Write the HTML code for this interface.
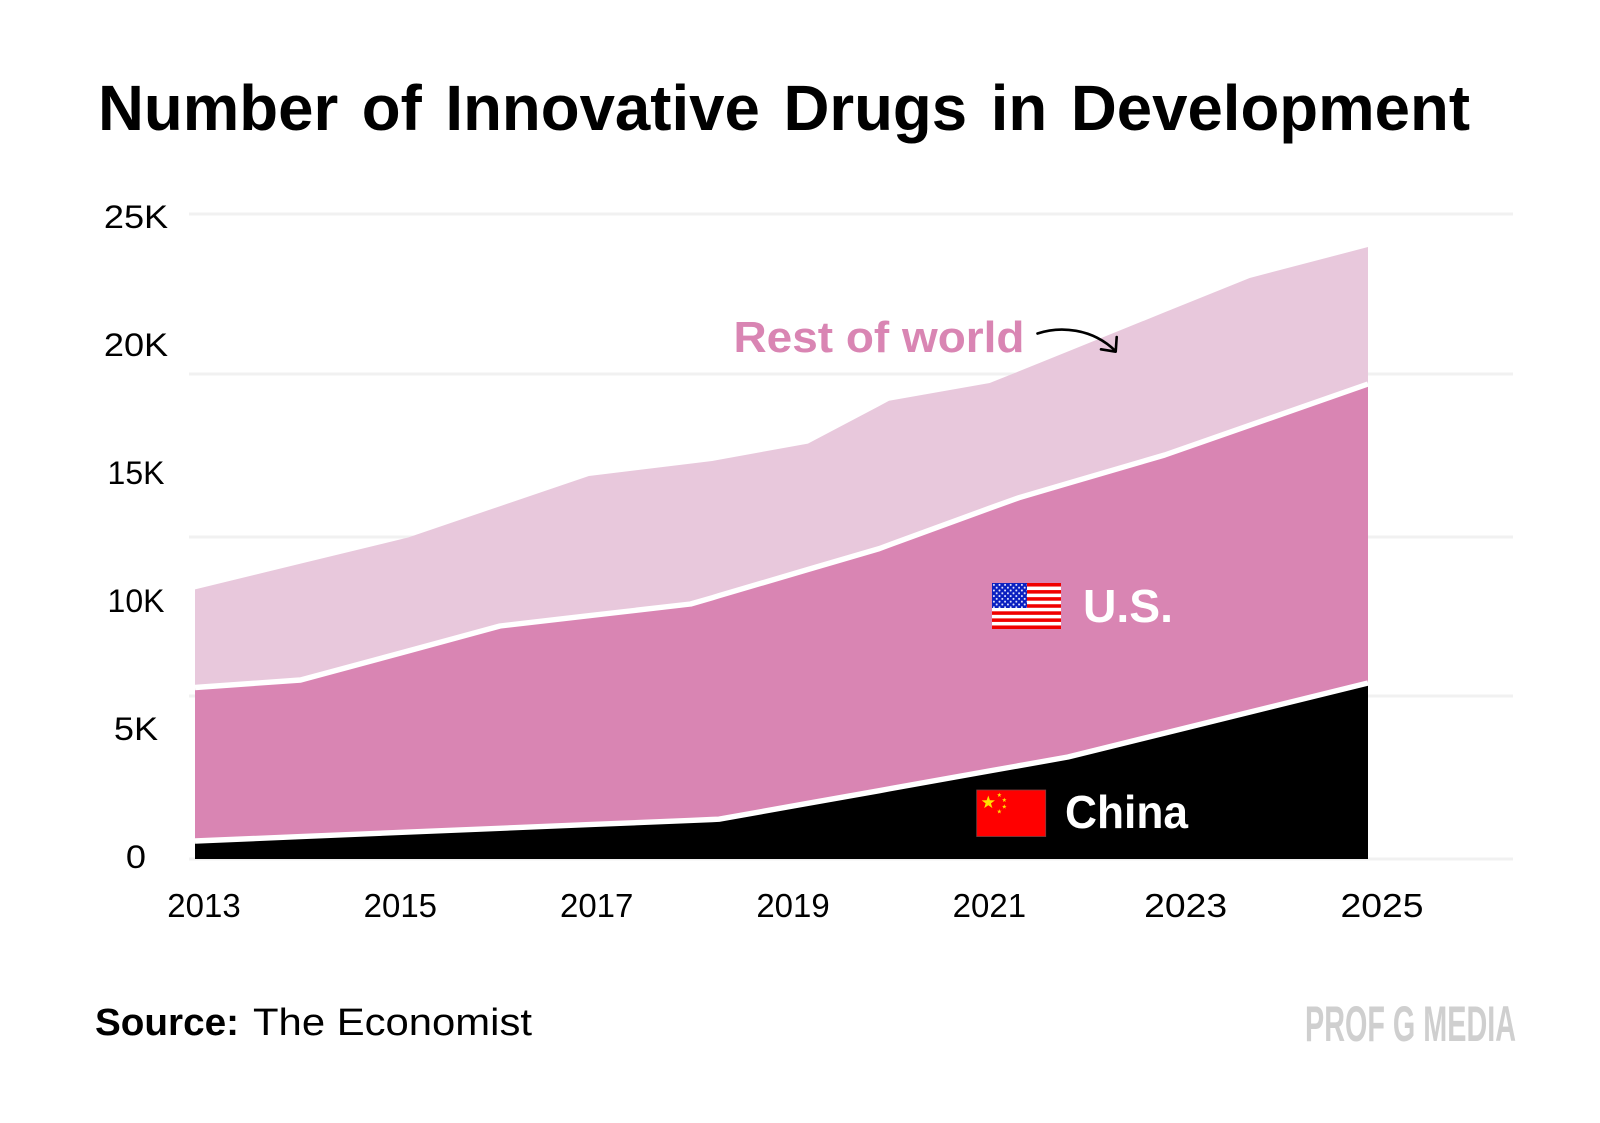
<!DOCTYPE html>
<html lang="en">
<head>
<meta charset="utf-8">
<title>Number of Innovative Drugs in Development</title>
<style>
html,body{margin:0;padding:0;background:#fff;width:1600px;height:1123px;overflow:hidden}
svg{display:block}
text{font-family:"Liberation Sans",sans-serif}
</style>
</head>
<body>
<svg id="chart" xmlns="http://www.w3.org/2000/svg" width="1600" height="1123" viewBox="0 0 1600 1123">
  <defs>
    <pattern id="star-dots" width="5.6" height="5.6" patternUnits="userSpaceOnUse" x="992.5" y="583.5">
      <circle cx="1.4" cy="1.4" r="1" fill="#E6E8FF"/>
      <circle cx="4.2" cy="4.2" r="1" fill="#E6E8FF"/>
    </pattern>
  </defs>
  <rect width="1600" height="1123" fill="#fff"/>
  <text x="98" y="130" font-size="64" font-weight="700" fill="#000" word-spacing="6" textLength="1372" lengthAdjust="spacingAndGlyphs">Number of Innovative Drugs in Development</text>
  <g id="grid"></g>
  <g id="areas"></g>
  <g id="yticks"></g>
  <g id="xticks"></g>

  <text x="733.5" y="352" font-size="44" font-weight="700" fill="#D985B3" textLength="291" lengthAdjust="spacingAndGlyphs">Rest of world</text>
  <g fill="none" stroke="#000" stroke-width="2.6" stroke-linecap="round" stroke-linejoin="round">
    <path d="M1037.5 333.5 C1060 326 1092 328 1115.5 351"/>
    <path d="M1116.7 337 L1115.7 351.7 L1101 349.3"/>
  </g>

  <g>
    <rect x="992" y="583" width="69" height="46" fill="#fff"/>
    <g id="us-stripes" fill="#F00000"></g>
    <rect x="992" y="583" width="35" height="25" fill="#0A1FC0"/>
    <rect x="992" y="583" width="35" height="25" fill="url(#star-dots)"/>
  </g>
  <text x="1083" y="622" font-size="46" font-weight="700" fill="#fff" textLength="90" lengthAdjust="spacingAndGlyphs">U.S.</text>

  <g>
    <rect x="976.7" y="790" width="69" height="46.5" fill="#FF0000" stroke="#7a4040" stroke-width="0.8"/>
    <g id="china-stars" fill="#FFE000"></g>
  </g>
  <text x="1065" y="828" font-size="46" font-weight="700" fill="#fff" textLength="123" lengthAdjust="spacingAndGlyphs">China</text>

  <text x="95" y="1035" font-size="38" font-weight="700" fill="#000" textLength="144" lengthAdjust="spacingAndGlyphs">Source:</text>
  <text x="253" y="1035" font-size="38" fill="#000" textLength="279" lengthAdjust="spacingAndGlyphs">The Economist</text>
  <text x="1305" y="1041" font-size="50" font-weight="700" fill="#CFCFCF" textLength="211" lengthAdjust="spacingAndGlyphs">PROF G MEDIA</text>
</svg>

<script>
const years = [2013.00,2014.08,2015.18,2016.12,2017.03,2018.07,2018.29,2018.36,2019.27,2020.00,2020.10,2021.13,2021.43,2021.93,2022.92,2023.79,2025.00];
const chinaValues = [698,868,1043,1190,1333,1496,1531,1543,2159,2647,2717,3415,3616,3954,4880,5694,6822];
const usValues = [5949,6070,7019,7841,8097,8388,8593,8662,9062,9384,9454,10182,10388,10608,10779,11116,11589];
const restValues = [3803,4512,4399,4644,5415,5442,5302,5272,4880,5527,5593,4853,4899,5109,5531,5710,5310];
const yTickValues = [25000,20000,15000,10000,5000,0];
const yTickLabels = ["25K","20K","15K","10K","5K","0"];
const xTickYears = [2013,2015,2017,2019,2021,2023,2025];
const gridValues = [25000,18800,12480,6320,0];

const NS = "http://www.w3.org/2000/svg";
function xScale(yr){ return 195 + (yr - 2013) * 97.75; }
function yScale(v){ return 859 - v * 645 / 25000; }
function xLabelPos(yr){ return 204 + (yr - 2013) * 98.17; }
function yLabelPos(v){ return 868 - v * 640 / 25000; }
function make(tag, attrs, parent){
  const el = document.createElementNS(NS, tag);
  for (const k in attrs) el.setAttribute(k, attrs[k]);
  parent.appendChild(el);
  return el;
}
function fitWidth(t){
  const s = t.textContent;
  const factor = s.indexOf("1") >= 0 ? 1.0 : 1.13;
  t.setAttribute("textLength", (t.getComputedTextLength() * factor).toFixed(1));
  t.setAttribute("lengthAdjust", "spacingAndGlyphs");
}

const grid = document.getElementById("grid");
gridValues.forEach(function(v){
  const line = make("line", {x1:189, x2:1513, y1:yScale(v), y2:yScale(v), stroke:"#F1F1F1", "stroke-width":3}, grid);
  
  
});

const cumChina = chinaValues.slice();
const cumUs = usValues.map(function(v,i){ return v + cumChina[i]; });
const cumTotal = restValues.map(function(v,i){ return v + cumUs[i]; });
const zeros = years.map(function(){ return 0; });

function topPts(arr){ return years.map(function(y,i){ return xScale(y).toFixed(1)+","+yScale(arr[i]).toFixed(1); }); }
function bandPts(upper, lower){ return topPts(upper).concat(topPts(lower).reverse()).join(" "); }

const areas = document.getElementById("areas");
const restArea = make("polygon", {points:bandPts(cumTotal,cumUs), fill:"#E8C8DC"}, areas);


const usArea = make("polygon", {points:bandPts(cumUs,cumChina), fill:"#D985B3"}, areas);


const chinaArea = make("polygon", {points:bandPts(cumChina,zeros), fill:"#000"}, areas);


const usLine = make("polyline", {points:topPts(cumUs).join(" "), fill:"none", stroke:"#fff", "stroke-width":5.4, "stroke-linejoin":"round"}, areas);


const chinaLine = make("polyline", {points:topPts(cumChina).join(" "), fill:"none", stroke:"#fff", "stroke-width":5.4, "stroke-linejoin":"round"}, areas);



const yticks = document.getElementById("yticks");
yTickValues.forEach(function(v,i){
  const t = make("text", {x:136, y:yLabelPos(v), "text-anchor":"middle", "font-size":32, fill:"#000"}, yticks);
  t.textContent = yTickLabels[i];
  
  
  fitWidth(t);
});

const xticks = document.getElementById("xticks");
xTickYears.forEach(function(yr){
  const t = make("text", {x:xLabelPos(yr), y:917, "text-anchor":"middle", "font-size":33, fill:"#000"}, xticks);
  t.textContent = String(yr);
  
  
  fitWidth(t);
});

const stripes = document.getElementById("us-stripes");
for (let i = 0; i < 13; i += 2) {
  make("rect", {x:992, y:583 + i * 46 / 13, width:69, height:46 / 13}, stripes);
}

function starPoints(cx, cy, r){
  const pts = [];
  for (let i = 0; i < 10; i++) {
    const rad = i % 2 ? r * 0.4 : r;
    const a = -Math.PI / 2 + i * Math.PI / 5;
    pts.push((cx + rad * Math.cos(a)).toFixed(2) + "," + (cy + rad * Math.sin(a)).toFixed(2));
  }
  return pts.join(" ");
}
const chinaStars = document.getElementById("china-stars");
make("polygon", {points:starPoints(988.3, 802.5, 7)}, chinaStars);
make("polygon", {points:starPoints(999.3, 795, 2.4)}, chinaStars);
make("polygon", {points:starPoints(1004.3, 800, 2.4)}, chinaStars);
make("polygon", {points:starPoints(1004.3, 806.7, 2.4)}, chinaStars);
make("polygon", {points:starPoints(999.3, 811.5, 2.4)}, chinaStars);
</script>
</body>
</html>
